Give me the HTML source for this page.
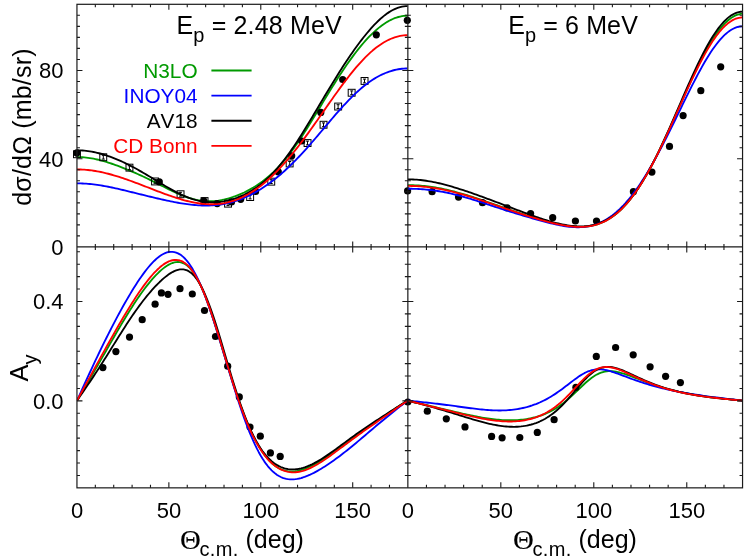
<!DOCTYPE html>
<html><head><meta charset="utf-8"><title>p-d scattering</title>
<style>html,body{margin:0;padding:0;background:#fff;}body{width:747px;height:558px;overflow:hidden;font-family:"Liberation Sans",sans-serif;}svg{display:block;will-change:transform;}</style></head>
<body>
<svg width="747" height="558" viewBox="0 0 747 558">
<rect width="747" height="558" fill="#fff"/>
<defs>
<clipPath id="cTL"><rect x="76.95" y="4.3" width="330.90000000000003" height="242.64999999999998"/></clipPath>
<clipPath id="cTR"><rect x="407.85" y="4.3" width="334.69999999999993" height="242.64999999999998"/></clipPath>
<clipPath id="cBL"><rect x="76.95" y="246.95" width="330.90000000000003" height="240.90000000000003"/></clipPath>
<clipPath id="cBR"><rect x="407.85" y="246.95" width="334.69999999999993" height="240.90000000000003"/></clipPath>
</defs>
<g clip-path="url(#cTL)" fill="none" stroke-width="1.85" stroke-linejoin="round">
<path stroke="#009a00" d="M77.00,157.05 L78.84,157.07 L80.67,157.13 L82.51,157.24 L84.34,157.38 L86.18,157.57 L88.02,157.80 L89.85,158.07 L91.69,158.37 L93.52,158.71 L95.36,159.08 L97.20,159.49 L99.03,159.93 L100.87,160.40 L102.71,160.90 L104.54,161.42 L106.38,161.97 L108.21,162.54 L110.05,163.14 L111.89,163.75 L113.72,164.38 L115.56,165.03 L117.39,165.70 L119.23,166.39 L121.07,167.09 L122.90,167.80 L124.74,168.53 L126.57,169.27 L128.41,170.03 L130.25,170.79 L132.08,171.57 L133.92,172.37 L135.76,173.18 L137.59,174.00 L139.43,174.83 L141.26,175.67 L143.10,176.53 L144.94,177.40 L146.77,178.28 L148.61,179.17 L150.44,180.07 L152.28,180.98 L154.12,181.90 L155.95,182.82 L157.79,183.75 L159.62,184.68 L161.46,185.61 L163.30,186.55 L165.13,187.47 L166.97,188.40 L168.81,189.31 L170.64,190.21 L172.48,191.10 L174.31,191.96 L176.15,192.81 L177.99,193.63 L179.82,194.43 L181.66,195.19 L183.49,195.92 L185.33,196.61 L187.17,197.26 L189.00,197.87 L190.84,198.44 L192.67,198.96 L194.51,199.42 L196.35,199.84 L198.18,200.21 L200.02,200.52 L201.85,200.77 L203.69,200.97 L205.53,201.12 L207.36,201.21 L209.20,201.24 L211.04,201.22 L212.87,201.14 L214.71,201.01 L216.54,200.82 L218.38,200.59 L220.22,200.30 L222.05,199.97 L223.89,199.58 L225.72,199.15 L227.56,198.68 L229.40,198.16 L231.23,197.59 L233.07,196.99 L234.90,196.34 L236.74,195.65 L238.58,194.92 L240.41,194.15 L242.25,193.34 L244.09,192.49 L245.92,191.59 L247.76,190.65 L249.59,189.67 L251.43,188.64 L253.27,187.57 L255.10,186.45 L256.94,185.27 L258.77,184.04 L260.61,182.76 L262.45,181.42 L264.28,180.02 L266.12,178.56 L267.95,177.04 L269.79,175.45 L271.63,173.79 L273.46,172.06 L275.30,170.27 L277.13,168.40 L278.97,166.46 L280.81,164.44 L282.64,162.35 L284.48,160.19 L286.32,157.96 L288.15,155.66 L289.99,153.28 L291.82,150.84 L293.66,148.33 L295.50,145.76 L297.33,143.12 L299.17,140.43 L301.00,137.69 L302.84,134.89 L304.68,132.05 L306.51,129.17 L308.35,126.25 L310.18,123.30 L312.02,120.32 L313.86,117.31 L315.69,114.29 L317.53,111.26 L319.37,108.22 L321.20,105.17 L323.04,102.13 L324.87,99.09 L326.71,96.06 L328.55,93.05 L330.38,90.06 L332.22,87.09 L334.05,84.14 L335.89,81.23 L337.73,78.35 L339.56,75.51 L341.40,72.71 L343.23,69.94 L345.07,67.23 L346.91,64.56 L348.74,61.94 L350.58,59.38 L352.42,56.86 L354.25,54.41 L356.09,52.01 L357.92,49.67 L359.76,47.39 L361.60,45.17 L363.43,43.02 L365.27,40.94 L367.10,38.93 L368.94,36.98 L370.78,35.11 L372.61,33.31 L374.45,31.59 L376.28,29.94 L378.12,28.38 L379.96,26.90 L381.79,25.50 L383.63,24.18 L385.46,22.96 L387.30,21.82 L389.14,20.78 L390.97,19.83 L392.81,18.98 L394.65,18.22 L396.48,17.56 L398.32,17.00 L400.15,16.54 L401.99,16.18 L403.83,15.92 L405.66,15.77 L407.50,15.71"/>
</g>
<g clip-path="url(#cTR)" fill="none" stroke-width="1.85" stroke-linejoin="round">
<path stroke="#009a00" d="M407.50,185.13 L409.36,185.14 L411.22,185.17 L413.08,185.22 L414.94,185.30 L416.81,185.40 L418.67,185.51 L420.53,185.65 L422.39,185.81 L424.25,185.99 L426.11,186.19 L427.97,186.42 L429.83,186.66 L431.69,186.92 L433.56,187.20 L435.42,187.51 L437.28,187.83 L439.14,188.17 L441.00,188.53 L442.86,188.90 L444.72,189.30 L446.58,189.71 L448.44,190.14 L450.31,190.59 L452.17,191.05 L454.03,191.52 L455.89,192.02 L457.75,192.52 L459.61,193.04 L461.47,193.57 L463.33,194.12 L465.19,194.67 L467.06,195.24 L468.92,195.82 L470.78,196.40 L472.64,197.00 L474.50,197.60 L476.36,198.22 L478.22,198.83 L480.08,199.46 L481.94,200.09 L483.81,200.72 L485.67,201.36 L487.53,202.00 L489.39,202.64 L491.25,203.29 L493.11,203.94 L494.97,204.59 L496.83,205.23 L498.69,205.88 L500.56,206.53 L502.42,207.18 L504.28,207.83 L506.14,208.47 L508.00,209.11 L509.86,209.75 L511.72,210.39 L513.58,211.02 L515.44,211.65 L517.30,212.28 L519.17,212.90 L521.03,213.52 L522.89,214.13 L524.75,214.74 L526.61,215.34 L528.47,215.94 L530.33,216.53 L532.19,217.11 L534.05,217.69 L535.92,218.26 L537.78,218.82 L539.64,219.37 L541.50,219.91 L543.36,220.45 L545.22,220.97 L547.08,221.48 L548.94,221.97 L550.80,222.45 L552.67,222.92 L554.53,223.37 L556.39,223.80 L558.25,224.21 L560.11,224.60 L561.97,224.96 L563.83,225.30 L565.69,225.62 L567.55,225.90 L569.42,226.15 L571.28,226.37 L573.14,226.55 L575.00,226.69 L576.86,226.79 L578.72,226.84 L580.58,226.85 L582.44,226.80 L584.30,226.71 L586.17,226.55 L588.03,226.34 L589.89,226.06 L591.75,225.72 L593.61,225.31 L595.47,224.83 L597.33,224.28 L599.19,223.64 L601.05,222.93 L602.92,222.13 L604.78,221.25 L606.64,220.27 L608.50,219.21 L610.36,218.05 L612.22,216.79 L614.08,215.43 L615.94,213.98 L617.80,212.42 L619.67,210.76 L621.53,208.99 L623.39,207.11 L625.25,205.13 L627.11,203.04 L628.97,200.84 L630.83,198.53 L632.69,196.11 L634.55,193.58 L636.42,190.95 L638.28,188.21 L640.14,185.36 L642.00,182.41 L643.86,179.36 L645.72,176.21 L647.58,172.96 L649.44,169.62 L651.30,166.19 L653.17,162.67 L655.03,159.07 L656.89,155.38 L658.75,151.63 L660.61,147.80 L662.47,143.91 L664.33,139.97 L666.19,135.96 L668.05,131.91 L669.92,127.82 L671.78,123.70 L673.64,119.55 L675.50,115.37 L677.36,111.18 L679.22,106.99 L681.08,102.80 L682.94,98.61 L684.80,94.44 L686.66,90.30 L688.53,86.18 L690.39,82.11 L692.25,78.08 L694.11,74.11 L695.97,70.20 L697.83,66.37 L699.69,62.61 L701.55,58.94 L703.41,55.37 L705.28,51.89 L707.14,48.53 L709.00,45.29 L710.86,42.17 L712.72,39.18 L714.58,36.33 L716.44,33.62 L718.30,31.07 L720.16,28.67 L722.03,26.43 L723.89,24.36 L725.75,22.46 L727.61,20.73 L729.47,19.19 L731.33,17.83 L733.19,16.66 L735.05,15.68 L736.91,14.89 L738.78,14.30 L740.64,13.90 L742.50,13.70"/>
</g>
<g clip-path="url(#cBL)" fill="none" stroke-width="1.85" stroke-linejoin="round">
<path stroke="#009a00" d="M77.00,400.60 L78.84,397.50 L80.67,394.41 L82.51,391.31 L84.34,388.20 L86.18,385.09 L88.02,381.96 L89.85,378.83 L91.69,375.69 L93.52,372.54 L95.36,369.38 L97.20,366.21 L99.03,363.03 L100.87,359.84 L102.71,356.65 L104.54,353.45 L106.38,350.24 L108.21,347.04 L110.05,343.83 L111.89,340.64 L113.72,337.45 L115.56,334.27 L117.39,331.11 L119.23,327.97 L121.07,324.86 L122.90,321.77 L124.74,318.72 L126.57,315.70 L128.41,312.72 L130.25,309.78 L132.08,306.90 L133.92,304.06 L135.76,301.28 L137.59,298.55 L139.43,295.89 L141.26,293.29 L143.10,290.75 L144.94,288.29 L146.77,285.90 L148.61,283.58 L150.44,281.35 L152.28,279.19 L154.12,277.13 L155.95,275.16 L157.79,273.30 L159.62,271.54 L161.46,269.89 L163.30,268.37 L165.13,266.98 L166.97,265.73 L168.81,264.65 L170.64,263.73 L172.48,262.99 L174.31,262.45 L176.15,262.13 L177.99,262.04 L179.82,262.19 L181.66,262.61 L183.49,263.30 L185.33,264.29 L187.17,265.59 L189.00,267.21 L190.84,269.17 L192.67,271.46 L194.51,274.10 L196.35,277.09 L198.18,280.42 L200.02,284.09 L201.85,288.08 L203.69,292.40 L205.53,297.00 L207.36,301.89 L209.20,307.03 L211.04,312.39 L212.87,317.95 L214.71,323.68 L216.54,329.54 L218.38,335.50 L220.22,341.53 L222.05,347.61 L223.89,353.70 L225.72,359.77 L227.56,365.80 L229.40,371.76 L231.23,377.63 L233.07,383.40 L234.90,389.04 L236.74,394.54 L238.58,399.88 L240.41,405.06 L242.25,410.07 L244.09,414.89 L245.92,419.52 L247.76,423.95 L249.59,428.19 L251.43,432.22 L253.27,436.04 L255.10,439.66 L256.94,443.07 L258.77,446.27 L260.61,449.26 L262.45,452.05 L264.28,454.62 L266.12,457.00 L267.95,459.17 L269.79,461.15 L271.63,462.94 L273.46,464.53 L275.30,465.94 L277.13,467.18 L278.97,468.24 L280.81,469.13 L282.64,469.87 L284.48,470.45 L286.32,470.89 L288.15,471.18 L289.99,471.35 L291.82,471.39 L293.66,471.32 L295.50,471.13 L297.33,470.84 L299.17,470.46 L301.00,469.99 L302.84,469.43 L304.68,468.79 L306.51,468.09 L308.35,467.31 L310.18,466.48 L312.02,465.59 L313.86,464.65 L315.69,463.66 L317.53,462.63 L319.37,461.56 L321.20,460.46 L323.04,459.32 L324.87,458.15 L326.71,456.96 L328.55,455.74 L330.38,454.50 L332.22,453.24 L334.05,451.97 L335.89,450.68 L337.73,449.37 L339.56,448.06 L341.40,446.73 L343.23,445.40 L345.07,444.06 L346.91,442.72 L348.74,441.38 L350.58,440.03 L352.42,438.68 L354.25,437.33 L356.09,435.98 L357.92,434.63 L359.76,433.29 L361.60,431.95 L363.43,430.62 L365.27,429.29 L367.10,427.97 L368.94,426.65 L370.78,425.34 L372.61,424.04 L374.45,422.75 L376.28,421.46 L378.12,420.18 L379.96,418.91 L381.79,417.65 L383.63,416.39 L385.46,415.15 L387.30,413.90 L389.14,412.67 L390.97,411.44 L392.81,410.22 L394.65,409.01 L396.48,407.80 L398.32,406.59 L400.15,405.39 L401.99,404.19 L403.83,402.99 L405.66,401.80 L407.50,400.60"/>
</g>
<g clip-path="url(#cBR)" fill="none" stroke-width="1.85" stroke-linejoin="round">
<path stroke="#009a00" d="M407.50,400.60 L409.36,401.04 L411.22,401.47 L413.08,401.91 L414.94,402.35 L416.81,402.79 L418.67,403.22 L420.53,403.66 L422.39,404.10 L424.25,404.54 L426.11,404.98 L427.97,405.43 L429.83,405.87 L431.69,406.31 L433.56,406.76 L435.42,407.20 L437.28,407.65 L439.14,408.09 L441.00,408.54 L442.86,408.98 L444.72,409.43 L446.58,409.87 L448.44,410.31 L450.31,410.76 L452.17,411.20 L454.03,411.64 L455.89,412.07 L457.75,412.50 L459.61,412.93 L461.47,413.36 L463.33,413.78 L465.19,414.19 L467.06,414.60 L468.92,415.00 L470.78,415.40 L472.64,415.78 L474.50,416.16 L476.36,416.53 L478.22,416.88 L480.08,417.22 L481.94,417.55 L483.81,417.87 L485.67,418.17 L487.53,418.46 L489.39,418.73 L491.25,418.98 L493.11,419.21 L494.97,419.42 L496.83,419.61 L498.69,419.78 L500.56,419.93 L502.42,420.05 L504.28,420.15 L506.14,420.23 L508.00,420.27 L509.86,420.29 L511.72,420.28 L513.58,420.24 L515.44,420.17 L517.30,420.07 L519.17,419.93 L521.03,419.76 L522.89,419.56 L524.75,419.32 L526.61,419.04 L528.47,418.72 L530.33,418.36 L532.19,417.96 L534.05,417.52 L535.92,417.02 L537.78,416.49 L539.64,415.90 L541.50,415.26 L543.36,414.56 L545.22,413.81 L547.08,413.00 L548.94,412.12 L550.80,411.19 L552.67,410.19 L554.53,409.11 L556.39,407.97 L558.25,406.76 L560.11,405.48 L561.97,404.12 L563.83,402.69 L565.69,401.19 L567.55,399.63 L569.42,398.01 L571.28,396.33 L573.14,394.61 L575.00,392.85 L576.86,391.06 L578.72,389.27 L580.58,387.48 L582.44,385.71 L584.30,383.97 L586.17,382.29 L588.03,380.69 L589.89,379.17 L591.75,377.76 L593.61,376.47 L595.47,375.31 L597.33,374.29 L599.19,373.41 L601.05,372.68 L602.92,372.09 L604.78,371.66 L606.64,371.36 L608.50,371.20 L610.36,371.16 L612.22,371.24 L614.08,371.43 L615.94,371.71 L617.80,372.08 L619.67,372.52 L621.53,373.02 L623.39,373.57 L625.25,374.17 L627.11,374.81 L628.97,375.47 L630.83,376.16 L632.69,376.86 L634.55,377.58 L636.42,378.29 L638.28,379.01 L640.14,379.73 L642.00,380.44 L643.86,381.15 L645.72,381.84 L647.58,382.52 L649.44,383.20 L651.30,383.85 L653.17,384.50 L655.03,385.12 L656.89,385.74 L658.75,386.33 L660.61,386.91 L662.47,387.47 L664.33,388.02 L666.19,388.55 L668.05,389.07 L669.92,389.56 L671.78,390.05 L673.64,390.51 L675.50,390.97 L677.36,391.40 L679.22,391.83 L681.08,392.24 L682.94,392.63 L684.80,393.01 L686.66,393.38 L688.53,393.74 L690.39,394.09 L692.25,394.42 L694.11,394.74 L695.97,395.05 L697.83,395.36 L699.69,395.65 L701.55,395.93 L703.41,396.20 L705.28,396.47 L707.14,396.73 L709.00,396.97 L710.86,397.22 L712.72,397.45 L714.58,397.68 L716.44,397.90 L718.30,398.12 L720.16,398.33 L722.03,398.53 L723.89,398.74 L725.75,398.93 L727.61,399.13 L729.47,399.32 L731.33,399.51 L733.19,399.69 L735.05,399.88 L736.91,400.06 L738.78,400.24 L740.64,400.42 L742.50,400.60"/>
</g>
<g fill="none" stroke="#000" stroke-width="1.0">
<rect x="73.5" y="150.8" width="6.9" height="6.9"/>
<path d="M76.9,152.3V156.1M75.4,152.3H78.4M75.4,156.1H78.4"/>
<rect x="99.8" y="153.8" width="6.9" height="6.9"/>
<path d="M103.3,155.3V159.1M101.8,155.3H104.8M101.8,159.1H104.8"/>
<rect x="126.0" y="164.2" width="6.9" height="6.9"/>
<path d="M129.4,165.8V169.6M127.9,165.8H130.9M127.9,169.6H130.9"/>
<rect x="151.6" y="178.0" width="6.9" height="6.9"/>
<path d="M155.0,179.5V183.3M153.5,179.5H156.5M153.5,183.3H156.5"/>
<rect x="177.1" y="190.8" width="6.9" height="6.9"/>
<path d="M180.5,192.3V196.1M179.0,192.3H182.0M179.0,196.1H182.0"/>
<rect x="201.1" y="197.6" width="6.9" height="6.9"/>
<path d="M204.5,199.1V202.9M203.0,199.1H206.0M203.0,202.9H206.0"/>
<rect x="224.6" y="200.2" width="6.9" height="6.9"/>
<path d="M228.0,201.8V205.6M226.5,201.8H229.5M226.5,205.6H229.5"/>
<rect x="246.7" y="193.6" width="6.9" height="6.9"/>
<path d="M250.1,195.1V198.9M248.6,195.1H251.6M248.6,198.9H251.6"/>
<rect x="267.8" y="178.2" width="6.9" height="6.9"/>
<path d="M271.2,179.7V183.5M269.7,179.7H272.7M269.7,183.5H272.7"/>
<rect x="286.2" y="160.0" width="6.9" height="6.9"/>
<path d="M289.7,161.5V165.3M288.2,161.5H291.2M288.2,165.3H291.2"/>
<rect x="304.1" y="139.6" width="6.9" height="6.9"/>
<path d="M307.5,141.1V144.9M306.0,141.1H309.0M306.0,144.9H309.0"/>
<rect x="320.1" y="121.3" width="6.9" height="6.9"/>
<path d="M323.5,122.9V126.7M322.0,122.9H325.0M322.0,126.7H325.0"/>
<rect x="334.7" y="103.1" width="6.9" height="6.9"/>
<path d="M338.1,104.7V108.5M336.6,104.7H339.6M336.6,108.5H339.6"/>
<rect x="348.2" y="89.3" width="6.9" height="6.9"/>
<path d="M351.7,90.9V94.7M350.2,90.9H353.2M350.2,94.7H353.2"/>
<rect x="361.1" y="77.5" width="6.9" height="6.9"/>
<path d="M364.5,79.1V82.9M363.0,79.1H366.0M363.0,82.9H366.0"/>
</g>
<g fill="#000">
<circle cx="76.9" cy="152.9" r="3.6"/>
<circle cx="159.3" cy="181.9" r="3.6"/>
<circle cx="203.8" cy="200.9" r="3.6"/>
<circle cx="217.2" cy="203.6" r="3.6"/>
<circle cx="231.5" cy="201.9" r="3.6"/>
<circle cx="240.7" cy="199.3" r="3.6"/>
<circle cx="255.6" cy="191.4" r="3.6"/>
<circle cx="278.3" cy="171.9" r="3.6"/>
<circle cx="291.7" cy="155.8" r="3.6"/>
<circle cx="301.7" cy="141.0" r="3.6"/>
<circle cx="320.8" cy="112.4" r="3.6"/>
<circle cx="342.7" cy="79.5" r="3.6"/>
<circle cx="376.3" cy="34.8" r="3.6"/>
<circle cx="407.3" cy="20.3" r="3.6"/>
<circle cx="407.6" cy="190.9" r="3.6"/>
<circle cx="432.1" cy="191.7" r="3.6"/>
<circle cx="458.5" cy="197.1" r="3.6"/>
<circle cx="482.5" cy="202.7" r="3.6"/>
<circle cx="507.0" cy="207.8" r="3.6"/>
<circle cx="530.6" cy="213.6" r="3.6"/>
<circle cx="552.7" cy="217.7" r="3.6"/>
<circle cx="575.4" cy="221.0" r="3.6"/>
<circle cx="596.5" cy="221.0" r="3.6"/>
<circle cx="633.4" cy="191.7" r="3.6"/>
<circle cx="651.9" cy="172.1" r="3.6"/>
<circle cx="669.5" cy="146.4" r="3.6"/>
<circle cx="683.1" cy="115.6" r="3.6"/>
<circle cx="700.8" cy="90.7" r="3.6"/>
<circle cx="720.7" cy="66.8" r="3.6"/>
<circle cx="102.9" cy="367.6" r="3.6"/>
<circle cx="115.9" cy="351.6" r="3.6"/>
<circle cx="129.5" cy="337.1" r="3.6"/>
<circle cx="142.2" cy="319.7" r="3.6"/>
<circle cx="155.1" cy="304.2" r="3.6"/>
<circle cx="161.4" cy="292.9" r="3.6"/>
<circle cx="168.0" cy="294.3" r="3.6"/>
<circle cx="180.0" cy="288.7" r="3.6"/>
<circle cx="192.3" cy="294.0" r="3.6"/>
<circle cx="204.5" cy="310.5" r="3.6"/>
<circle cx="215.5" cy="336.5" r="3.6"/>
<circle cx="227.7" cy="366.2" r="3.6"/>
<circle cx="239.3" cy="396.9" r="3.6"/>
<circle cx="250.0" cy="427.0" r="3.6"/>
<circle cx="260.3" cy="436.2" r="3.6"/>
<circle cx="270.4" cy="452.9" r="3.6"/>
<circle cx="280.2" cy="456.4" r="3.6"/>
<circle cx="407.8" cy="402.0" r="3.6"/>
<circle cx="427.3" cy="411.2" r="3.6"/>
<circle cx="446.3" cy="418.8" r="3.6"/>
<circle cx="465.0" cy="426.9" r="3.6"/>
<circle cx="491.6" cy="436.4" r="3.6"/>
<circle cx="502.1" cy="437.8" r="3.6"/>
<circle cx="519.8" cy="437.5" r="3.6"/>
<circle cx="537.3" cy="432.4" r="3.6"/>
<circle cx="554.1" cy="419.7" r="3.6"/>
<circle cx="575.9" cy="387.3" r="3.6"/>
<circle cx="596.3" cy="356.4" r="3.6"/>
<circle cx="615.6" cy="347.5" r="3.6"/>
<circle cx="633.2" cy="354.8" r="3.6"/>
<circle cx="650.1" cy="366.8" r="3.6"/>
<circle cx="665.6" cy="376.3" r="3.6"/>
<circle cx="680.4" cy="382.6" r="3.6"/>
</g>
<g clip-path="url(#cTL)" fill="none" stroke-width="1.85" stroke-linejoin="round">
<path stroke="#0000ff" d="M77.00,183.35 L78.84,183.37 L80.67,183.41 L82.51,183.47 L84.34,183.56 L86.18,183.67 L88.02,183.81 L89.85,183.98 L91.69,184.16 L93.52,184.37 L95.36,184.60 L97.20,184.85 L99.03,185.13 L100.87,185.42 L102.71,185.73 L104.54,186.05 L106.38,186.39 L108.21,186.75 L110.05,187.12 L111.89,187.50 L113.72,187.89 L115.56,188.30 L117.39,188.71 L119.23,189.13 L121.07,189.56 L122.90,190.00 L124.74,190.44 L126.57,190.88 L128.41,191.33 L130.25,191.78 L132.08,192.24 L133.92,192.69 L135.76,193.15 L137.59,193.60 L139.43,194.06 L141.26,194.51 L143.10,194.97 L144.94,195.42 L146.77,195.87 L148.61,196.32 L150.44,196.76 L152.28,197.21 L154.12,197.64 L155.95,198.08 L157.79,198.50 L159.62,198.93 L161.46,199.35 L163.30,199.76 L165.13,200.16 L166.97,200.56 L168.81,200.95 L170.64,201.33 L172.48,201.70 L174.31,202.06 L176.15,202.40 L177.99,202.74 L179.82,203.06 L181.66,203.37 L183.49,203.67 L185.33,203.94 L187.17,204.20 L189.00,204.44 L190.84,204.66 L192.67,204.86 L194.51,205.04 L196.35,205.19 L198.18,205.32 L200.02,205.42 L201.85,205.50 L203.69,205.55 L205.53,205.57 L207.36,205.55 L209.20,205.51 L211.04,205.44 L212.87,205.33 L214.71,205.18 L216.54,205.01 L218.38,204.79 L220.22,204.54 L222.05,204.26 L223.89,203.93 L225.72,203.57 L227.56,203.17 L229.40,202.73 L231.23,202.26 L233.07,201.74 L234.90,201.18 L236.74,200.59 L238.58,199.95 L240.41,199.27 L242.25,198.56 L244.09,197.80 L245.92,197.00 L247.76,196.16 L249.59,195.29 L251.43,194.37 L253.27,193.41 L255.10,192.41 L256.94,191.37 L258.77,190.29 L260.61,189.17 L262.45,188.01 L264.28,186.81 L266.12,185.57 L267.95,184.29 L269.79,182.97 L271.63,181.61 L273.46,180.21 L275.30,178.77 L277.13,177.29 L278.97,175.76 L280.81,174.20 L282.64,172.60 L284.48,170.96 L286.32,169.28 L288.15,167.57 L289.99,165.81 L291.82,164.02 L293.66,162.20 L295.50,160.34 L297.33,158.44 L299.17,156.51 L301.00,154.56 L302.84,152.57 L304.68,150.55 L306.51,148.51 L308.35,146.44 L310.18,144.35 L312.02,142.25 L313.86,140.12 L315.69,137.98 L317.53,135.82 L319.37,133.66 L321.20,131.49 L323.04,129.31 L324.87,127.14 L326.71,124.96 L328.55,122.79 L330.38,120.63 L332.22,118.48 L334.05,116.34 L335.89,114.22 L337.73,112.13 L339.56,110.05 L341.40,108.01 L343.23,105.99 L345.07,104.01 L346.91,102.06 L348.74,100.15 L350.58,98.28 L352.42,96.45 L354.25,94.67 L356.09,92.94 L357.92,91.26 L359.76,89.63 L361.60,88.06 L363.43,86.54 L365.27,85.08 L367.10,83.67 L368.94,82.33 L370.78,81.04 L372.61,79.82 L374.45,78.65 L376.28,77.55 L378.12,76.51 L379.96,75.54 L381.79,74.63 L383.63,73.78 L385.46,72.99 L387.30,72.27 L389.14,71.61 L390.97,71.02 L392.81,70.49 L394.65,70.02 L396.48,69.61 L398.32,69.27 L400.15,68.99 L401.99,68.77 L403.83,68.61 L405.66,68.52 L407.50,68.49"/>
<path stroke="#000000" d="M77.00,150.36 L78.84,150.38 L80.67,150.44 L82.51,150.54 L84.34,150.69 L86.18,150.87 L88.02,151.10 L89.85,151.36 L91.69,151.67 L93.52,152.01 L95.36,152.39 L97.20,152.80 L99.03,153.25 L100.87,153.74 L102.71,154.26 L104.54,154.82 L106.38,155.40 L108.21,156.02 L110.05,156.67 L111.89,157.35 L113.72,158.06 L115.56,158.79 L117.39,159.56 L119.23,160.35 L121.07,161.16 L122.90,162.00 L124.74,162.87 L126.57,163.76 L128.41,164.67 L130.25,165.60 L132.08,166.56 L133.92,167.53 L135.76,168.53 L137.59,169.54 L139.43,170.57 L141.26,171.62 L143.10,172.68 L144.94,173.75 L146.77,174.84 L148.61,175.94 L150.44,177.04 L152.28,178.15 L154.12,179.27 L155.95,180.39 L157.79,181.51 L159.62,182.62 L161.46,183.73 L163.30,184.83 L165.13,185.92 L166.97,187.00 L168.81,188.06 L170.64,189.11 L172.48,190.13 L174.31,191.12 L176.15,192.09 L177.99,193.02 L179.82,193.92 L181.66,194.79 L183.49,195.62 L185.33,196.40 L187.17,197.15 L189.00,197.85 L190.84,198.50 L192.67,199.10 L194.51,199.65 L196.35,200.15 L198.18,200.60 L200.02,201.00 L201.85,201.34 L203.69,201.63 L205.53,201.87 L207.36,202.05 L209.20,202.18 L211.04,202.25 L212.87,202.27 L214.71,202.24 L216.54,202.15 L218.38,202.01 L220.22,201.82 L222.05,201.59 L223.89,201.30 L225.72,200.96 L227.56,200.56 L229.40,200.13 L231.23,199.64 L233.07,199.10 L234.90,198.51 L236.74,197.87 L238.58,197.18 L240.41,196.43 L242.25,195.64 L244.09,194.79 L245.92,193.88 L247.76,192.92 L249.59,191.90 L251.43,190.81 L253.27,189.67 L255.10,188.47 L256.94,187.19 L258.77,185.86 L260.61,184.45 L262.45,182.97 L264.28,181.43 L266.12,179.80 L267.95,178.11 L269.79,176.34 L271.63,174.50 L273.46,172.58 L275.30,170.58 L277.13,168.51 L278.97,166.37 L280.81,164.15 L282.64,161.85 L284.48,159.49 L286.32,157.06 L288.15,154.55 L289.99,151.99 L291.82,149.36 L293.66,146.68 L295.50,143.94 L297.33,141.14 L299.17,138.30 L301.00,135.42 L302.84,132.49 L304.68,129.53 L306.51,126.54 L308.35,123.52 L310.18,120.48 L312.02,117.42 L313.86,114.35 L315.69,111.26 L317.53,108.17 L319.37,105.08 L321.20,101.99 L323.04,98.90 L324.87,95.82 L326.71,92.76 L328.55,89.71 L330.38,86.67 L332.22,83.66 L334.05,80.66 L335.89,77.70 L337.73,74.76 L339.56,71.85 L341.40,68.97 L343.23,66.12 L345.07,63.31 L346.91,60.53 L348.74,57.79 L350.58,55.09 L352.42,52.44 L354.25,49.83 L356.09,47.26 L357.92,44.75 L359.76,42.28 L361.60,39.87 L363.43,37.51 L365.27,35.21 L367.10,32.97 L368.94,30.80 L370.78,28.70 L372.61,26.66 L374.45,24.70 L376.28,22.82 L378.12,21.02 L379.96,19.30 L381.79,17.68 L383.63,16.14 L385.46,14.71 L387.30,13.37 L389.14,12.13 L390.97,11.01 L392.81,9.99 L394.65,9.08 L396.48,8.29 L398.32,7.62 L400.15,7.07 L401.99,6.63 L403.83,6.32 L405.66,6.14 L407.50,6.07"/>
<path stroke="#ff0000" d="M77.00,169.45 L78.84,169.46 L80.67,169.51 L82.51,169.59 L84.34,169.70 L86.18,169.84 L88.02,170.01 L89.85,170.21 L91.69,170.44 L93.52,170.71 L95.36,170.99 L97.20,171.31 L99.03,171.65 L100.87,172.02 L102.71,172.42 L104.54,172.84 L106.38,173.28 L108.21,173.75 L110.05,174.24 L111.89,174.74 L113.72,175.27 L115.56,175.82 L117.39,176.39 L119.23,176.97 L121.07,177.56 L122.90,178.18 L124.74,178.80 L126.57,179.44 L128.41,180.09 L130.25,180.75 L132.08,181.42 L133.92,182.10 L135.76,182.79 L137.59,183.48 L139.43,184.18 L141.26,184.88 L143.10,185.59 L144.94,186.30 L146.77,187.01 L148.61,187.72 L150.44,188.44 L152.28,189.15 L154.12,189.86 L155.95,190.56 L157.79,191.27 L159.62,191.96 L161.46,192.66 L163.30,193.34 L165.13,194.01 L166.97,194.68 L168.81,195.33 L170.64,195.98 L172.48,196.61 L174.31,197.22 L176.15,197.82 L177.99,198.40 L179.82,198.96 L181.66,199.50 L183.49,200.03 L185.33,200.52 L187.17,201.00 L189.00,201.44 L190.84,201.86 L192.67,202.26 L194.51,202.62 L196.35,202.95 L198.18,203.24 L200.02,203.50 L201.85,203.73 L203.69,203.92 L205.53,204.07 L207.36,204.18 L209.20,204.25 L211.04,204.27 L212.87,204.25 L214.71,204.19 L216.54,204.08 L218.38,203.93 L220.22,203.72 L222.05,203.47 L223.89,203.17 L225.72,202.82 L227.56,202.41 L229.40,201.95 L231.23,201.45 L233.07,200.88 L234.90,200.27 L236.74,199.60 L238.58,198.88 L240.41,198.10 L242.25,197.27 L244.09,196.38 L245.92,195.43 L247.76,194.44 L249.59,193.38 L251.43,192.27 L253.27,191.11 L255.10,189.89 L256.94,188.61 L258.77,187.28 L260.61,185.90 L262.45,184.46 L264.28,182.97 L266.12,181.42 L267.95,179.82 L269.79,178.17 L271.63,176.47 L273.46,174.71 L275.30,172.90 L277.13,171.05 L278.97,169.14 L280.81,167.19 L282.64,165.18 L284.48,163.13 L286.32,161.04 L288.15,158.90 L289.99,156.72 L291.82,154.49 L293.66,152.23 L295.50,149.92 L297.33,147.58 L299.17,145.20 L301.00,142.79 L302.84,140.35 L304.68,137.88 L306.51,135.38 L308.35,132.85 L310.18,130.31 L312.02,127.74 L313.86,125.15 L315.69,122.55 L317.53,119.93 L319.37,117.31 L321.20,114.68 L323.04,112.04 L324.87,109.40 L326.71,106.77 L328.55,104.14 L330.38,101.52 L332.22,98.91 L334.05,96.31 L335.89,93.73 L337.73,91.18 L339.56,88.64 L341.40,86.14 L343.23,83.66 L345.07,81.22 L346.91,78.82 L348.74,76.46 L350.58,74.13 L352.42,71.86 L354.25,69.63 L356.09,67.46 L357.92,65.33 L359.76,63.27 L361.60,61.26 L363.43,59.32 L365.27,57.44 L367.10,55.62 L368.94,53.87 L370.78,52.19 L372.61,50.58 L374.45,49.05 L376.28,47.59 L378.12,46.21 L379.96,44.90 L381.79,43.67 L383.63,42.53 L385.46,41.46 L387.30,40.47 L389.14,39.57 L390.97,38.75 L392.81,38.02 L394.65,37.37 L396.48,36.81 L398.32,36.33 L400.15,35.94 L401.99,35.64 L403.83,35.42 L405.66,35.29 L407.50,35.24"/>
</g>
<g clip-path="url(#cTR)" fill="none" stroke-width="1.85" stroke-linejoin="round">
<path stroke="#0000ff" d="M407.50,188.73 L409.36,188.74 L411.22,188.77 L413.08,188.81 L414.94,188.87 L416.81,188.95 L418.67,189.04 L420.53,189.15 L422.39,189.28 L424.25,189.43 L426.11,189.59 L427.97,189.78 L429.83,189.98 L431.69,190.20 L433.56,190.44 L435.42,190.69 L437.28,190.97 L439.14,191.27 L441.00,191.58 L442.86,191.91 L444.72,192.27 L446.58,192.64 L448.44,193.03 L450.31,193.43 L452.17,193.86 L454.03,194.30 L455.89,194.76 L457.75,195.23 L459.61,195.72 L461.47,196.23 L463.33,196.75 L465.19,197.28 L467.06,197.82 L468.92,198.38 L470.78,198.94 L472.64,199.52 L474.50,200.10 L476.36,200.69 L478.22,201.29 L480.08,201.89 L481.94,202.49 L483.81,203.10 L485.67,203.71 L487.53,204.33 L489.39,204.94 L491.25,205.55 L493.11,206.16 L494.97,206.78 L496.83,207.38 L498.69,207.99 L500.56,208.59 L502.42,209.19 L504.28,209.79 L506.14,210.38 L508.00,210.97 L509.86,211.55 L511.72,212.13 L513.58,212.71 L515.44,213.28 L517.30,213.85 L519.17,214.41 L521.03,214.97 L522.89,215.53 L524.75,216.08 L526.61,216.63 L528.47,217.17 L530.33,217.72 L532.19,218.25 L534.05,218.78 L535.92,219.31 L537.78,219.83 L539.64,220.35 L541.50,220.86 L543.36,221.36 L545.22,221.85 L547.08,222.34 L548.94,222.81 L550.80,223.27 L552.67,223.72 L554.53,224.15 L556.39,224.56 L558.25,224.95 L560.11,225.32 L561.97,225.66 L563.83,225.98 L565.69,226.27 L567.55,226.52 L569.42,226.74 L571.28,226.93 L573.14,227.07 L575.00,227.16 L576.86,227.21 L578.72,227.21 L580.58,227.16 L582.44,227.05 L584.30,226.88 L586.17,226.64 L588.03,226.35 L589.89,225.98 L591.75,225.54 L593.61,225.03 L595.47,224.45 L597.33,223.79 L599.19,223.04 L601.05,222.21 L602.92,221.30 L604.78,220.31 L606.64,219.22 L608.50,218.04 L610.36,216.78 L612.22,215.42 L614.08,213.97 L615.94,212.43 L617.80,210.79 L619.67,209.06 L621.53,207.24 L623.39,205.32 L625.25,203.31 L627.11,201.20 L628.97,199.01 L630.83,196.72 L632.69,194.33 L634.55,191.86 L636.42,189.30 L638.28,186.66 L640.14,183.92 L642.00,181.11 L643.86,178.21 L645.72,175.23 L647.58,172.18 L649.44,169.05 L651.30,165.85 L653.17,162.57 L655.03,159.24 L656.89,155.84 L658.75,152.38 L660.61,148.86 L662.47,145.30 L664.33,141.68 L666.19,138.03 L668.05,134.33 L669.92,130.60 L671.78,126.84 L673.64,123.05 L675.50,119.25 L677.36,115.44 L679.22,111.61 L681.08,107.79 L682.94,103.97 L684.80,100.17 L686.66,96.38 L688.53,92.62 L690.39,88.89 L692.25,85.19 L694.11,81.55 L695.97,77.96 L697.83,74.43 L699.69,70.98 L701.55,67.59 L703.41,64.30 L705.28,61.09 L707.14,57.98 L709.00,54.98 L710.86,52.10 L712.72,49.34 L714.58,46.70 L716.44,44.20 L718.30,41.84 L720.16,39.63 L722.03,37.57 L723.89,35.67 L725.75,33.94 L727.61,32.37 L729.47,30.98 L731.33,29.77 L733.19,28.73 L735.05,27.88 L736.91,27.22 L738.78,26.75 L740.64,26.46 L742.50,26.37"/>
<path stroke="#000000" d="M407.50,179.35 L409.36,179.36 L411.22,179.40 L413.08,179.47 L414.94,179.58 L416.81,179.70 L418.67,179.86 L420.53,180.04 L422.39,180.25 L424.25,180.49 L426.11,180.76 L427.97,181.04 L429.83,181.36 L431.69,181.69 L433.56,182.05 L435.42,182.43 L437.28,182.84 L439.14,183.26 L441.00,183.70 L442.86,184.16 L444.72,184.64 L446.58,185.14 L448.44,185.65 L450.31,186.18 L452.17,186.72 L454.03,187.28 L455.89,187.84 L457.75,188.42 L459.61,189.01 L461.47,189.61 L463.33,190.22 L465.19,190.84 L467.06,191.47 L468.92,192.10 L470.78,192.74 L472.64,193.39 L474.50,194.05 L476.36,194.71 L478.22,195.37 L480.08,196.05 L481.94,196.72 L483.81,197.40 L485.67,198.08 L487.53,198.77 L489.39,199.46 L491.25,200.16 L493.11,200.85 L494.97,201.55 L496.83,202.25 L498.69,202.95 L500.56,203.66 L502.42,204.36 L504.28,205.07 L506.14,205.78 L508.00,206.49 L509.86,207.19 L511.72,207.90 L513.58,208.61 L515.44,209.31 L517.30,210.02 L519.17,210.72 L521.03,211.42 L522.89,212.11 L524.75,212.80 L526.61,213.49 L528.47,214.17 L530.33,214.84 L532.19,215.51 L534.05,216.17 L535.92,216.82 L537.78,217.46 L539.64,218.08 L541.50,218.70 L543.36,219.30 L545.22,219.89 L547.08,220.47 L548.94,221.02 L550.80,221.56 L552.67,222.08 L554.53,222.58 L556.39,223.05 L558.25,223.50 L560.11,223.93 L561.97,224.33 L563.83,224.69 L565.69,225.03 L567.55,225.33 L569.42,225.60 L571.28,225.83 L573.14,226.02 L575.00,226.17 L576.86,226.28 L578.72,226.34 L580.58,226.35 L582.44,226.30 L584.30,226.21 L586.17,226.06 L588.03,225.84 L589.89,225.57 L591.75,225.23 L593.61,224.82 L595.47,224.35 L597.33,223.80 L599.19,223.17 L601.05,222.47 L602.92,221.68 L604.78,220.81 L606.64,219.85 L608.50,218.80 L610.36,217.66 L612.22,216.42 L614.08,215.09 L615.94,213.65 L617.80,212.12 L619.67,210.48 L621.53,208.74 L623.39,206.88 L625.25,204.93 L627.11,202.86 L628.97,200.68 L630.83,198.39 L632.69,195.99 L634.55,193.48 L636.42,190.86 L638.28,188.12 L640.14,185.28 L642.00,182.33 L643.86,179.28 L645.72,176.11 L647.58,172.85 L649.44,169.49 L651.30,166.03 L653.17,162.48 L655.03,158.84 L656.89,155.12 L658.75,151.31 L660.61,147.43 L662.47,143.48 L664.33,139.47 L666.19,135.39 L668.05,131.27 L669.92,127.10 L671.78,122.89 L673.64,118.65 L675.50,114.38 L677.36,110.10 L679.22,105.81 L681.08,101.51 L682.94,97.23 L684.80,92.96 L686.66,88.71 L688.53,84.50 L690.39,80.33 L692.25,76.21 L694.11,72.14 L695.97,68.14 L697.83,64.22 L699.69,60.39 L701.55,56.64 L703.41,53.00 L705.28,49.46 L707.14,46.04 L709.00,42.75 L710.86,39.58 L712.72,36.56 L714.58,33.68 L716.44,30.96 L718.30,28.39 L720.16,25.99 L722.03,23.76 L723.89,21.71 L725.75,19.83 L727.61,18.14 L729.47,16.64 L731.33,15.34 L733.19,14.22 L735.05,13.31 L736.91,12.60 L738.78,12.09 L740.64,11.78 L742.50,11.68"/>
<path stroke="#ff0000" d="M407.50,185.92 L409.36,185.93 L411.22,185.96 L413.08,186.01 L414.94,186.08 L416.81,186.17 L418.67,186.28 L420.53,186.42 L422.39,186.57 L424.25,186.74 L426.11,186.94 L427.97,187.15 L429.83,187.38 L431.69,187.63 L433.56,187.91 L435.42,188.20 L437.28,188.51 L439.14,188.84 L441.00,189.18 L442.86,189.55 L444.72,189.93 L446.58,190.33 L448.44,190.75 L450.31,191.19 L452.17,191.64 L454.03,192.10 L455.89,192.58 L457.75,193.08 L459.61,193.59 L461.47,194.11 L463.33,194.65 L465.19,195.20 L467.06,195.75 L468.92,196.32 L470.78,196.90 L472.64,197.49 L474.50,198.09 L476.36,198.69 L478.22,199.30 L480.08,199.92 L481.94,200.55 L483.81,201.17 L485.67,201.80 L487.53,202.44 L489.39,203.08 L491.25,203.72 L493.11,204.36 L494.97,205.00 L496.83,205.64 L498.69,206.28 L500.56,206.93 L502.42,207.56 L504.28,208.20 L506.14,208.84 L508.00,209.47 L509.86,210.10 L511.72,210.73 L513.58,211.35 L515.44,211.97 L517.30,212.59 L519.17,213.20 L521.03,213.81 L522.89,214.41 L524.75,215.00 L526.61,215.60 L528.47,216.18 L530.33,216.76 L532.19,217.33 L534.05,217.90 L535.92,218.46 L537.78,219.01 L539.64,219.55 L541.50,220.08 L543.36,220.61 L545.22,221.12 L547.08,221.62 L548.94,222.11 L550.80,222.58 L552.67,223.04 L554.53,223.48 L556.39,223.90 L558.25,224.31 L560.11,224.69 L561.97,225.06 L563.83,225.39 L565.69,225.70 L567.55,225.98 L569.42,226.23 L571.28,226.44 L573.14,226.62 L575.00,226.76 L576.86,226.86 L578.72,226.92 L580.58,226.92 L582.44,226.88 L584.30,226.78 L586.17,226.63 L588.03,226.42 L589.89,226.14 L591.75,225.80 L593.61,225.39 L595.47,224.91 L597.33,224.35 L599.19,223.72 L601.05,223.00 L602.92,222.20 L604.78,221.32 L606.64,220.34 L608.50,219.27 L610.36,218.11 L612.22,216.85 L614.08,215.49 L615.94,214.04 L617.80,212.47 L619.67,210.81 L621.53,209.03 L623.39,207.16 L625.25,205.17 L627.11,203.07 L628.97,200.87 L630.83,198.56 L632.69,196.14 L634.55,193.61 L636.42,190.97 L638.28,188.23 L640.14,185.38 L642.00,182.43 L643.86,179.38 L645.72,176.23 L647.58,172.99 L649.44,169.65 L651.30,166.23 L653.17,162.72 L655.03,159.12 L656.89,155.46 L658.75,151.72 L660.61,147.91 L662.47,144.04 L664.33,140.11 L666.19,136.14 L668.05,132.12 L669.92,128.06 L671.78,123.97 L673.64,119.85 L675.50,115.72 L677.36,111.58 L679.22,107.43 L681.08,103.29 L682.94,99.16 L684.80,95.05 L686.66,90.97 L688.53,86.92 L690.39,82.91 L692.25,78.96 L694.11,75.07 L695.97,71.24 L697.83,67.49 L699.69,63.82 L701.55,60.25 L703.41,56.77 L705.28,53.39 L707.14,50.13 L709.00,46.99 L710.86,43.98 L712.72,41.10 L714.58,38.36 L716.44,35.77 L718.30,33.32 L720.16,31.04 L722.03,28.92 L723.89,26.97 L725.75,25.19 L727.61,23.58 L729.47,22.16 L731.33,20.91 L733.19,19.86 L735.05,18.99 L736.91,18.31 L738.78,17.83 L740.64,17.54 L742.50,17.44"/>
</g>
<g clip-path="url(#cBL)" fill="none" stroke-width="1.85" stroke-linejoin="round">
<path stroke="#0000ff" d="M77.00,400.60 L78.84,396.56 L80.67,392.52 L82.51,388.49 L84.34,384.47 L86.18,380.46 L88.02,376.47 L89.85,372.50 L91.69,368.55 L93.52,364.62 L95.36,360.72 L97.20,356.85 L99.03,353.01 L100.87,349.20 L102.71,345.43 L104.54,341.69 L106.38,337.99 L108.21,334.33 L110.05,330.71 L111.89,327.13 L113.72,323.59 L115.56,320.10 L117.39,316.65 L119.23,313.24 L121.07,309.88 L122.90,306.57 L124.74,303.31 L126.57,300.10 L128.41,296.95 L130.25,293.85 L132.08,290.82 L133.92,287.85 L135.76,284.94 L137.59,282.11 L139.43,279.36 L141.26,276.70 L143.10,274.12 L144.94,271.64 L146.77,269.27 L148.61,267.01 L150.44,264.87 L152.28,262.85 L154.12,260.97 L155.95,259.24 L157.79,257.67 L159.62,256.26 L161.46,255.02 L163.30,253.97 L165.13,253.11 L166.97,252.46 L168.81,252.02 L170.64,251.80 L172.48,251.81 L174.31,252.06 L176.15,252.56 L177.99,253.32 L179.82,254.33 L181.66,255.61 L183.49,257.17 L185.33,258.99 L187.17,261.10 L189.00,263.49 L190.84,266.16 L192.67,269.11 L194.51,272.34 L196.35,275.84 L198.18,279.61 L200.02,283.64 L201.85,287.93 L203.69,292.46 L205.53,297.22 L207.36,302.19 L209.20,307.37 L211.04,312.74 L212.87,318.27 L214.71,323.96 L216.54,329.77 L218.38,335.69 L220.22,341.70 L222.05,347.77 L223.89,353.89 L225.72,360.02 L227.56,366.16 L229.40,372.27 L231.23,378.33 L233.07,384.33 L234.90,390.23 L236.74,396.04 L238.58,401.72 L240.41,407.25 L242.25,412.64 L244.09,417.85 L245.92,422.88 L247.76,427.71 L249.59,432.34 L251.43,436.76 L253.27,440.95 L255.10,444.93 L256.94,448.67 L258.77,452.19 L260.61,455.47 L262.45,458.52 L264.28,461.34 L266.12,463.93 L267.95,466.29 L269.79,468.44 L271.63,470.36 L273.46,472.08 L275.30,473.60 L277.13,474.92 L278.97,476.05 L280.81,477.00 L282.64,477.78 L284.48,478.40 L286.32,478.86 L288.15,479.18 L289.99,479.36 L291.82,479.41 L293.66,479.34 L295.50,479.16 L297.33,478.88 L299.17,478.50 L301.00,478.04 L302.84,477.49 L304.68,476.87 L306.51,476.18 L308.35,475.42 L310.18,474.61 L312.02,473.74 L313.86,472.82 L315.69,471.85 L317.53,470.84 L319.37,469.79 L321.20,468.70 L323.04,467.58 L324.87,466.42 L326.71,465.23 L328.55,464.01 L330.38,462.77 L332.22,461.49 L334.05,460.19 L335.89,458.86 L337.73,457.51 L339.56,456.14 L341.40,454.74 L343.23,453.33 L345.07,451.89 L346.91,450.44 L348.74,448.97 L350.58,447.48 L352.42,445.98 L354.25,444.46 L356.09,442.94 L357.92,441.40 L359.76,439.86 L361.60,438.30 L363.43,436.75 L365.27,435.19 L367.10,433.62 L368.94,432.06 L370.78,430.50 L372.61,428.94 L374.45,427.38 L376.28,425.83 L378.12,424.29 L379.96,422.75 L381.79,421.22 L383.63,419.70 L385.46,418.18 L387.30,416.68 L389.14,415.18 L390.97,413.69 L392.81,412.22 L394.65,410.74 L396.48,409.28 L398.32,407.82 L400.15,406.37 L401.99,404.92 L403.83,403.48 L405.66,402.04 L407.50,400.60"/>
<path stroke="#000000" d="M77.00,400.60 L78.84,397.95 L80.67,395.30 L82.51,392.65 L84.34,389.98 L86.18,387.29 L88.02,384.60 L89.85,381.88 L91.69,379.14 L93.52,376.38 L95.36,373.59 L97.20,370.78 L99.03,367.95 L100.87,365.09 L102.71,362.21 L104.54,359.31 L106.38,356.40 L108.21,353.47 L110.05,350.52 L111.89,347.58 L113.72,344.63 L115.56,341.68 L117.39,338.74 L119.23,335.81 L121.07,332.90 L122.90,330.01 L124.74,327.14 L126.57,324.31 L128.41,321.51 L130.25,318.75 L132.08,316.04 L133.92,313.37 L135.76,310.75 L137.59,308.18 L139.43,305.67 L141.26,303.21 L143.10,300.81 L144.94,298.47 L146.77,296.19 L148.61,293.97 L150.44,291.81 L152.28,289.72 L154.12,287.69 L155.95,285.73 L157.79,283.85 L159.62,282.04 L161.46,280.31 L163.30,278.66 L165.13,277.11 L166.97,275.66 L168.81,274.33 L170.64,273.12 L172.48,272.05 L174.31,271.13 L176.15,270.37 L177.99,269.81 L179.82,269.45 L181.66,269.31 L183.49,269.42 L185.33,269.79 L187.17,270.44 L189.00,271.40 L190.84,272.67 L192.67,274.28 L194.51,276.24 L196.35,278.55 L198.18,281.23 L200.02,284.27 L201.85,287.68 L203.69,291.44 L205.53,295.56 L207.36,300.00 L209.20,304.76 L211.04,309.80 L212.87,315.11 L214.71,320.66 L216.54,326.40 L218.38,332.32 L220.22,338.36 L222.05,344.50 L223.89,350.70 L225.72,356.93 L227.56,363.14 L229.40,369.32 L231.23,375.42 L233.07,381.43 L234.90,387.31 L236.74,393.03 L238.58,398.60 L240.41,403.97 L242.25,409.14 L244.09,414.10 L245.92,418.84 L247.76,423.34 L249.59,427.62 L251.43,431.65 L253.27,435.45 L255.10,439.01 L256.94,442.34 L258.77,445.44 L260.61,448.31 L262.45,450.96 L264.28,453.40 L266.12,455.64 L267.95,457.68 L269.79,459.52 L271.63,461.18 L273.46,462.67 L275.30,463.99 L277.13,465.15 L278.97,466.15 L280.81,467.01 L282.64,467.72 L284.48,468.31 L286.32,468.76 L288.15,469.09 L289.99,469.30 L291.82,469.40 L293.66,469.39 L295.50,469.28 L297.33,469.07 L299.17,468.76 L301.00,468.36 L302.84,467.88 L304.68,467.32 L306.51,466.67 L308.35,465.96 L310.18,465.17 L312.02,464.32 L313.86,463.40 L315.69,462.43 L317.53,461.41 L319.37,460.33 L321.20,459.21 L323.04,458.05 L324.87,456.86 L326.71,455.63 L328.55,454.37 L330.38,453.09 L332.22,451.79 L334.05,450.47 L335.89,449.13 L337.73,447.79 L339.56,446.44 L341.40,445.08 L343.23,443.73 L345.07,442.37 L346.91,441.02 L348.74,439.67 L350.58,438.33 L352.42,437.00 L354.25,435.67 L356.09,434.36 L357.92,433.06 L359.76,431.76 L361.60,430.48 L363.43,429.22 L365.27,427.96 L367.10,426.71 L368.94,425.47 L370.78,424.25 L372.61,423.03 L374.45,421.82 L376.28,420.61 L378.12,419.42 L379.96,418.23 L381.79,417.04 L383.63,415.86 L385.46,414.68 L387.30,413.50 L389.14,412.32 L390.97,411.15 L392.81,409.98 L394.65,408.81 L396.48,407.63 L398.32,406.46 L400.15,405.29 L401.99,404.12 L403.83,402.94 L405.66,401.77 L407.50,400.60"/>
<path stroke="#ff0000" d="M77.00,400.60 L78.84,397.24 L80.67,393.87 L82.51,390.51 L84.34,387.15 L86.18,383.79 L88.02,380.43 L89.85,377.07 L91.69,373.71 L93.52,370.36 L95.36,367.01 L97.20,363.66 L99.03,360.32 L100.87,356.98 L102.71,353.66 L104.54,350.34 L106.38,347.03 L108.21,343.73 L110.05,340.45 L111.89,337.19 L113.72,333.94 L115.56,330.71 L117.39,327.51 L119.23,324.33 L121.07,321.17 L122.90,318.05 L124.74,314.96 L126.57,311.91 L128.41,308.90 L130.25,305.93 L132.08,303.00 L133.92,300.13 L135.76,297.30 L137.59,294.54 L139.43,291.83 L141.26,289.19 L143.10,286.62 L144.94,284.13 L146.77,281.71 L148.61,279.38 L150.44,277.14 L152.28,275.00 L154.12,272.96 L155.95,271.04 L157.79,269.23 L159.62,267.56 L161.46,266.02 L163.30,264.63 L165.13,263.39 L166.97,262.33 L168.81,261.44 L170.64,260.74 L172.48,260.24 L174.31,259.96 L176.15,259.90 L177.99,260.07 L179.82,260.50 L181.66,261.19 L183.49,262.15 L185.33,263.38 L187.17,264.91 L189.00,266.74 L190.84,268.88 L192.67,271.32 L194.51,274.07 L196.35,277.14 L198.18,280.52 L200.02,284.20 L201.85,288.19 L203.69,292.47 L205.53,297.02 L207.36,301.84 L209.20,306.90 L211.04,312.18 L212.87,317.67 L214.71,323.33 L216.54,329.14 L218.38,335.07 L220.22,341.10 L222.05,347.19 L223.89,353.31 L225.72,359.43 L227.56,365.54 L229.40,371.58 L231.23,377.56 L233.07,383.42 L234.90,389.17 L236.74,394.77 L238.58,400.21 L240.41,405.47 L242.25,410.54 L244.09,415.41 L245.92,420.08 L247.76,424.53 L249.59,428.76 L251.43,432.78 L253.27,436.57 L255.10,440.15 L256.94,443.50 L258.77,446.64 L260.61,449.58 L262.45,452.30 L264.28,454.83 L266.12,457.16 L267.95,459.30 L269.79,461.25 L271.63,463.03 L273.46,464.63 L275.30,466.06 L277.13,467.33 L278.97,468.45 L280.81,469.41 L282.64,470.23 L284.48,470.90 L286.32,471.44 L288.15,471.84 L289.99,472.12 L291.82,472.27 L293.66,472.31 L295.50,472.23 L297.33,472.04 L299.17,471.75 L301.00,471.36 L302.84,470.88 L304.68,470.30 L306.51,469.64 L308.35,468.90 L310.18,468.09 L312.02,467.20 L313.86,466.26 L315.69,465.25 L317.53,464.19 L319.37,463.08 L321.20,461.92 L323.04,460.72 L324.87,459.49 L326.71,458.23 L328.55,456.95 L330.38,455.64 L332.22,454.31 L334.05,452.96 L335.89,451.61 L337.73,450.25 L339.56,448.88 L341.40,447.51 L343.23,446.14 L345.07,444.77 L346.91,443.40 L348.74,442.04 L350.58,440.68 L352.42,439.33 L354.25,437.98 L356.09,436.65 L357.92,435.32 L359.76,434.00 L361.60,432.68 L363.43,431.37 L365.27,430.07 L367.10,428.78 L368.94,427.49 L370.78,426.21 L372.61,424.92 L374.45,423.65 L376.28,422.37 L378.12,421.10 L379.96,419.83 L381.79,418.55 L383.63,417.28 L385.46,416.01 L387.30,414.73 L389.14,413.46 L390.97,412.18 L392.81,410.90 L394.65,409.62 L396.48,408.33 L398.32,407.05 L400.15,405.76 L401.99,404.47 L403.83,403.18 L405.66,401.89 L407.50,400.60"/>
</g>
<g clip-path="url(#cBR)" fill="none" stroke-width="1.85" stroke-linejoin="round">
<path stroke="#0000ff" d="M407.50,400.60 L409.36,400.79 L411.22,400.97 L413.08,401.16 L414.94,401.35 L416.81,401.54 L418.67,401.73 L420.53,401.92 L422.39,402.11 L424.25,402.31 L426.11,402.51 L427.97,402.72 L429.83,402.93 L431.69,403.14 L433.56,403.35 L435.42,403.57 L437.28,403.79 L439.14,404.02 L441.00,404.25 L442.86,404.48 L444.72,404.72 L446.58,404.96 L448.44,405.20 L450.31,405.45 L452.17,405.70 L454.03,405.95 L455.89,406.20 L457.75,406.46 L459.61,406.71 L461.47,406.97 L463.33,407.22 L465.19,407.47 L467.06,407.72 L468.92,407.97 L470.78,408.21 L472.64,408.45 L474.50,408.68 L476.36,408.90 L478.22,409.11 L480.08,409.31 L481.94,409.50 L483.81,409.68 L485.67,409.85 L487.53,409.99 L489.39,410.13 L491.25,410.24 L493.11,410.33 L494.97,410.40 L496.83,410.45 L498.69,410.47 L500.56,410.47 L502.42,410.44 L504.28,410.39 L506.14,410.30 L508.00,410.18 L509.86,410.03 L511.72,409.85 L513.58,409.64 L515.44,409.39 L517.30,409.10 L519.17,408.77 L521.03,408.41 L522.89,408.01 L524.75,407.57 L526.61,407.09 L528.47,406.56 L530.33,406.00 L532.19,405.39 L534.05,404.73 L535.92,404.04 L537.78,403.29 L539.64,402.50 L541.50,401.66 L543.36,400.77 L545.22,399.83 L547.08,398.84 L548.94,397.80 L550.80,396.71 L552.67,395.57 L554.53,394.38 L556.39,393.14 L558.25,391.86 L560.11,390.54 L561.97,389.17 L563.83,387.78 L565.69,386.36 L567.55,384.93 L569.42,383.48 L571.28,382.05 L573.14,380.62 L575.00,379.23 L576.86,377.88 L578.72,376.58 L580.58,375.36 L582.44,374.23 L584.30,373.19 L586.17,372.27 L588.03,371.46 L589.89,370.78 L591.75,370.23 L593.61,369.81 L595.47,369.53 L597.33,369.37 L599.19,369.34 L601.05,369.42 L602.92,369.61 L604.78,369.89 L606.64,370.26 L608.50,370.70 L610.36,371.21 L612.22,371.77 L614.08,372.37 L615.94,373.01 L617.80,373.68 L619.67,374.36 L621.53,375.06 L623.39,375.76 L625.25,376.47 L627.11,377.18 L628.97,377.88 L630.83,378.57 L632.69,379.25 L634.55,379.92 L636.42,380.58 L638.28,381.22 L640.14,381.85 L642.00,382.47 L643.86,383.07 L645.72,383.65 L647.58,384.22 L649.44,384.77 L651.30,385.31 L653.17,385.83 L655.03,386.34 L656.89,386.83 L658.75,387.31 L660.61,387.78 L662.47,388.24 L664.33,388.68 L666.19,389.11 L668.05,389.53 L669.92,389.94 L671.78,390.34 L673.64,390.73 L675.50,391.11 L677.36,391.47 L679.22,391.83 L681.08,392.18 L682.94,392.52 L684.80,392.86 L686.66,393.18 L688.53,393.50 L690.39,393.81 L692.25,394.12 L694.11,394.41 L695.97,394.70 L697.83,394.99 L699.69,395.27 L701.55,395.54 L703.41,395.81 L705.28,396.07 L707.14,396.32 L709.00,396.58 L710.86,396.82 L712.72,397.07 L714.58,397.31 L716.44,397.54 L718.30,397.78 L720.16,398.01 L722.03,398.23 L723.89,398.46 L725.75,398.68 L727.61,398.90 L729.47,399.11 L731.33,399.33 L733.19,399.54 L735.05,399.76 L736.91,399.97 L738.78,400.18 L740.64,400.39 L742.50,400.60"/>
<path stroke="#000000" d="M407.50,400.60 L409.36,401.07 L411.22,401.54 L413.08,402.01 L414.94,402.49 L416.81,402.96 L418.67,403.44 L420.53,403.92 L422.39,404.41 L424.25,404.90 L426.11,405.40 L427.97,405.90 L429.83,406.41 L431.69,406.92 L433.56,407.44 L435.42,407.96 L437.28,408.49 L439.14,409.03 L441.00,409.57 L442.86,410.12 L444.72,410.68 L446.58,411.24 L448.44,411.80 L450.31,412.37 L452.17,412.95 L454.03,413.53 L455.89,414.11 L457.75,414.69 L459.61,415.27 L461.47,415.86 L463.33,416.44 L465.19,417.02 L467.06,417.59 L468.92,418.17 L470.78,418.73 L472.64,419.29 L474.50,419.85 L476.36,420.39 L478.22,420.92 L480.08,421.44 L481.94,421.94 L483.81,422.43 L485.67,422.90 L487.53,423.35 L489.39,423.78 L491.25,424.19 L493.11,424.58 L494.97,424.94 L496.83,425.27 L498.69,425.58 L500.56,425.85 L502.42,426.10 L504.28,426.31 L506.14,426.48 L508.00,426.62 L509.86,426.72 L511.72,426.78 L513.58,426.80 L515.44,426.78 L517.30,426.71 L519.17,426.59 L521.03,426.42 L522.89,426.20 L524.75,425.93 L526.61,425.60 L528.47,425.22 L530.33,424.77 L532.19,424.26 L534.05,423.68 L535.92,423.04 L537.78,422.32 L539.64,421.53 L541.50,420.66 L543.36,419.72 L545.22,418.69 L547.08,417.58 L548.94,416.38 L550.80,415.10 L552.67,413.72 L554.53,412.25 L556.39,410.70 L558.25,409.05 L560.11,407.32 L561.97,405.50 L563.83,403.60 L565.69,401.62 L567.55,399.57 L569.42,397.47 L571.28,395.31 L573.14,393.13 L575.00,390.92 L576.86,388.71 L578.72,386.51 L580.58,384.35 L582.44,382.24 L584.30,380.21 L586.17,378.27 L588.03,376.44 L589.89,374.75 L591.75,373.20 L593.61,371.80 L595.47,370.58 L597.33,369.54 L599.19,368.67 L601.05,367.98 L602.92,367.47 L604.78,367.13 L606.64,366.95 L608.50,366.92 L610.36,367.04 L612.22,367.28 L614.08,367.64 L615.94,368.10 L617.80,368.65 L619.67,369.28 L621.53,369.97 L623.39,370.72 L625.25,371.51 L627.11,372.33 L628.97,373.17 L630.83,374.03 L632.69,374.90 L634.55,375.77 L636.42,376.64 L638.28,377.51 L640.14,378.36 L642.00,379.20 L643.86,380.03 L645.72,380.84 L647.58,381.63 L649.44,382.41 L651.30,383.16 L653.17,383.89 L655.03,384.59 L656.89,385.28 L658.75,385.94 L660.61,386.58 L662.47,387.20 L664.33,387.80 L666.19,388.38 L668.05,388.93 L669.92,389.47 L671.78,389.98 L673.64,390.48 L675.50,390.96 L677.36,391.42 L679.22,391.86 L681.08,392.29 L682.94,392.70 L684.80,393.09 L686.66,393.47 L688.53,393.84 L690.39,394.19 L692.25,394.53 L694.11,394.85 L695.97,395.17 L697.83,395.47 L699.69,395.76 L701.55,396.04 L703.41,396.32 L705.28,396.58 L707.14,396.83 L709.00,397.08 L710.86,397.32 L712.72,397.55 L714.58,397.77 L716.44,397.99 L718.30,398.20 L720.16,398.40 L722.03,398.60 L723.89,398.80 L725.75,398.99 L727.61,399.18 L729.47,399.36 L731.33,399.55 L733.19,399.73 L735.05,399.90 L736.91,400.08 L738.78,400.25 L740.64,400.43 L742.50,400.60"/>
<path stroke="#ff0000" d="M407.50,400.60 L409.36,401.05 L411.22,401.51 L413.08,401.96 L414.94,402.42 L416.81,402.88 L418.67,403.33 L420.53,403.79 L422.39,404.25 L424.25,404.71 L426.11,405.17 L427.97,405.63 L429.83,406.09 L431.69,406.55 L433.56,407.01 L435.42,407.48 L437.28,407.94 L439.14,408.41 L441.00,408.87 L442.86,409.34 L444.72,409.81 L446.58,410.27 L448.44,410.74 L450.31,411.20 L452.17,411.67 L454.03,412.13 L455.89,412.59 L457.75,413.05 L459.61,413.51 L461.47,413.96 L463.33,414.41 L465.19,414.85 L467.06,415.29 L468.92,415.72 L470.78,416.14 L472.64,416.56 L474.50,416.96 L476.36,417.36 L478.22,417.75 L480.08,418.12 L481.94,418.48 L483.81,418.83 L485.67,419.16 L487.53,419.48 L489.39,419.78 L491.25,420.05 L493.11,420.31 L494.97,420.55 L496.83,420.76 L498.69,420.95 L500.56,421.12 L502.42,421.25 L504.28,421.36 L506.14,421.44 L508.00,421.49 L509.86,421.50 L511.72,421.48 L513.58,421.42 L515.44,421.33 L517.30,421.19 L519.17,421.02 L521.03,420.80 L522.89,420.54 L524.75,420.23 L526.61,419.88 L528.47,419.47 L530.33,419.02 L532.19,418.51 L534.05,417.94 L535.92,417.32 L537.78,416.63 L539.64,415.89 L541.50,415.08 L543.36,414.20 L545.22,413.25 L547.08,412.23 L548.94,411.14 L550.80,409.97 L552.67,408.73 L554.53,407.40 L556.39,406.00 L558.25,404.52 L560.11,402.96 L561.97,401.32 L563.83,399.61 L565.69,397.83 L567.55,395.99 L569.42,394.09 L571.28,392.15 L573.14,390.17 L575.00,388.17 L576.86,386.17 L578.72,384.18 L580.58,382.21 L582.44,380.30 L584.30,378.46 L586.17,376.70 L588.03,375.05 L589.89,373.53 L591.75,372.14 L593.61,370.91 L595.47,369.84 L597.33,368.95 L599.19,368.22 L601.05,367.67 L602.92,367.29 L604.78,367.07 L606.64,367.00 L608.50,367.08 L610.36,367.29 L612.22,367.63 L614.08,368.06 L615.94,368.60 L617.80,369.21 L619.67,369.88 L621.53,370.62 L623.39,371.39 L625.25,372.20 L627.11,373.04 L628.97,373.89 L630.83,374.76 L632.69,375.62 L634.55,376.49 L636.42,377.35 L638.28,378.20 L640.14,379.04 L642.00,379.86 L643.86,380.67 L645.72,381.45 L647.58,382.22 L649.44,382.96 L651.30,383.69 L653.17,384.39 L655.03,385.07 L656.89,385.73 L658.75,386.37 L660.61,386.98 L662.47,387.57 L664.33,388.15 L666.19,388.70 L668.05,389.23 L669.92,389.75 L671.78,390.24 L673.64,390.72 L675.50,391.18 L677.36,391.62 L679.22,392.04 L681.08,392.45 L682.94,392.85 L684.80,393.23 L686.66,393.60 L688.53,393.95 L690.39,394.29 L692.25,394.62 L694.11,394.93 L695.97,395.24 L697.83,395.53 L699.69,395.82 L701.55,396.09 L703.41,396.36 L705.28,396.62 L707.14,396.86 L709.00,397.10 L710.86,397.34 L712.72,397.56 L714.58,397.78 L716.44,398.00 L718.30,398.21 L720.16,398.41 L722.03,398.61 L723.89,398.80 L725.75,399.00 L727.61,399.18 L729.47,399.37 L731.33,399.55 L733.19,399.73 L735.05,399.90 L736.91,400.08 L738.78,400.25 L740.64,400.43 L742.50,400.60"/>
</g>
<g stroke="#1a1a1a" stroke-width="1.2" fill="none" stroke-linecap="butt">
<rect x="76.95" y="4.3" width="665.5999999999999" height="483.55"/>
<path d="M76.95,246.95H742.55M407.85,4.3V487.85"/>
</g>
<path d="M95.33,4.3v3.0M95.33,243.95v6.0M95.33,487.85v-3.0M113.72,4.3v3.0M113.72,243.95v6.0M113.72,487.85v-3.0M132.10,4.3v3.0M132.10,243.95v6.0M132.10,487.85v-3.0M150.48,4.3v3.0M150.48,243.95v6.0M150.48,487.85v-3.0M168.87,4.3v5.5M168.87,241.45v11.0M168.87,487.85v-5.5M187.25,4.3v3.0M187.25,243.95v6.0M187.25,487.85v-3.0M205.63,4.3v3.0M205.63,243.95v6.0M205.63,487.85v-3.0M224.02,4.3v3.0M224.02,243.95v6.0M224.02,487.85v-3.0M242.40,4.3v3.0M242.40,243.95v6.0M242.40,487.85v-3.0M260.78,4.3v5.5M260.78,241.45v11.0M260.78,487.85v-5.5M279.17,4.3v3.0M279.17,243.95v6.0M279.17,487.85v-3.0M297.55,4.3v3.0M297.55,243.95v6.0M297.55,487.85v-3.0M315.93,4.3v3.0M315.93,243.95v6.0M315.93,487.85v-3.0M334.32,4.3v3.0M334.32,243.95v6.0M334.32,487.85v-3.0M352.70,4.3v5.5M352.70,241.45v11.0M352.70,487.85v-5.5M371.08,4.3v3.0M371.08,243.95v6.0M371.08,487.85v-3.0M389.47,4.3v3.0M389.47,243.95v6.0M389.47,487.85v-3.0M426.44,4.3v3.0M426.44,243.95v6.0M426.44,487.85v-3.0M445.04,4.3v3.0M445.04,243.95v6.0M445.04,487.85v-3.0M463.63,4.3v3.0M463.63,243.95v6.0M463.63,487.85v-3.0M482.23,4.3v3.0M482.23,243.95v6.0M482.23,487.85v-3.0M500.82,4.3v5.5M500.82,241.45v11.0M500.82,487.85v-5.5M519.42,4.3v3.0M519.42,243.95v6.0M519.42,487.85v-3.0M538.01,4.3v3.0M538.01,243.95v6.0M538.01,487.85v-3.0M556.61,4.3v3.0M556.61,243.95v6.0M556.61,487.85v-3.0M575.20,4.3v3.0M575.20,243.95v6.0M575.20,487.85v-3.0M593.79,4.3v5.5M593.79,241.45v11.0M593.79,487.85v-5.5M612.39,4.3v3.0M612.39,243.95v6.0M612.39,487.85v-3.0M630.98,4.3v3.0M630.98,243.95v6.0M630.98,487.85v-3.0M649.58,4.3v3.0M649.58,243.95v6.0M649.58,487.85v-3.0M668.17,4.3v3.0M668.17,243.95v6.0M668.17,487.85v-3.0M686.77,4.3v5.5M686.77,241.45v11.0M686.77,487.85v-5.5M705.36,4.3v3.0M705.36,243.95v6.0M705.36,487.85v-3.0M723.96,4.3v3.0M723.96,243.95v6.0M723.96,487.85v-3.0M76.95,235.92h3.0M404.85,235.92h6.0M742.55,235.92h-3.0M76.95,224.89h3.0M404.85,224.89h6.0M742.55,224.89h-3.0M76.95,213.86h3.0M404.85,213.86h6.0M742.55,213.86h-3.0M76.95,202.83h3.0M404.85,202.83h6.0M742.55,202.83h-3.0M76.95,191.80h3.0M404.85,191.80h6.0M742.55,191.80h-3.0M76.95,180.77h3.0M404.85,180.77h6.0M742.55,180.77h-3.0M76.95,169.74h3.0M404.85,169.74h6.0M742.55,169.74h-3.0M76.95,158.71h5.5M402.35,158.71h11.0M742.55,158.71h-5.5M76.95,147.68h3.0M404.85,147.68h6.0M742.55,147.68h-3.0M76.95,136.65h3.0M404.85,136.65h6.0M742.55,136.65h-3.0M76.95,125.62h3.0M404.85,125.62h6.0M742.55,125.62h-3.0M76.95,114.59h3.0M404.85,114.59h6.0M742.55,114.59h-3.0M76.95,103.56h3.0M404.85,103.56h6.0M742.55,103.56h-3.0M76.95,92.53h3.0M404.85,92.53h6.0M742.55,92.53h-3.0M76.95,81.50h3.0M404.85,81.50h6.0M742.55,81.50h-3.0M76.95,70.47h5.5M402.35,70.47h11.0M742.55,70.47h-5.5M76.95,59.44h3.0M404.85,59.44h6.0M742.55,59.44h-3.0M76.95,48.41h3.0M404.85,48.41h6.0M742.55,48.41h-3.0M76.95,37.38h3.0M404.85,37.38h6.0M742.55,37.38h-3.0M76.95,26.35h3.0M404.85,26.35h6.0M742.55,26.35h-3.0M76.95,15.32h3.0M404.85,15.32h6.0M742.55,15.32h-3.0M76.95,475.45h3.0M404.85,475.45h6.0M742.55,475.45h-3.0M76.95,463.02h3.0M404.85,463.02h6.0M742.55,463.02h-3.0M76.95,450.60h3.0M404.85,450.60h6.0M742.55,450.60h-3.0M76.95,438.17h3.0M404.85,438.17h6.0M742.55,438.17h-3.0M76.95,425.75h3.0M404.85,425.75h6.0M742.55,425.75h-3.0M76.95,413.32h3.0M404.85,413.32h6.0M742.55,413.32h-3.0M76.95,400.90h5.5M402.35,400.90h11.0M742.55,400.90h-5.5M76.95,388.47h3.0M404.85,388.47h6.0M742.55,388.47h-3.0M76.95,376.05h3.0M404.85,376.05h6.0M742.55,376.05h-3.0M76.95,363.62h3.0M404.85,363.62h6.0M742.55,363.62h-3.0M76.95,351.20h3.0M404.85,351.20h6.0M742.55,351.20h-3.0M76.95,338.77h3.0M404.85,338.77h6.0M742.55,338.77h-3.0M76.95,326.35h3.0M404.85,326.35h6.0M742.55,326.35h-3.0M76.95,313.92h3.0M404.85,313.92h6.0M742.55,313.92h-3.0M76.95,301.50h5.5M402.35,301.50h11.0M742.55,301.50h-5.5M76.95,289.07h3.0M404.85,289.07h6.0M742.55,289.07h-3.0M76.95,276.65h3.0M404.85,276.65h6.0M742.55,276.65h-3.0M76.95,264.22h3.0M404.85,264.22h6.0M742.55,264.22h-3.0M76.95,251.80h3.0M404.85,251.80h6.0M742.55,251.80h-3.0" stroke="#1a1a1a" stroke-width="1.1" fill="none"/>
<g font-family="'Liberation Sans', sans-serif" fill="#000" style="font-kerning:none">
<text x="77.0" y="517.6" font-size="22" text-anchor="middle">0</text>
<text x="407.9" y="517.6" font-size="22" text-anchor="middle">0</text>
<text x="168.9" y="517.6" font-size="22" text-anchor="middle">50</text>
<text x="500.8" y="517.6" font-size="22" text-anchor="middle">50</text>
<text x="260.8" y="517.6" font-size="22" text-anchor="middle">100</text>
<text x="593.8" y="517.6" font-size="22" text-anchor="middle">100</text>
<text x="352.7" y="517.6" font-size="22" text-anchor="middle">150</text>
<text x="686.8" y="517.6" font-size="22" text-anchor="middle">150</text>
<text x="63.6" y="78.4" font-size="22" text-anchor="end">80</text>
<text x="63.6" y="166.6" font-size="22" text-anchor="end">40</text>
<text x="63.6" y="254.8" font-size="22" text-anchor="end">0</text>
<text x="63.6" y="309.4" font-size="22" text-anchor="end">0.4</text>
<text x="63.6" y="408.8" font-size="22" text-anchor="end">0.0</text>
<text x="176.4" y="34.4" font-size="25" letter-spacing="0.16">E<tspan font-size="20" dy="8">p</tspan><tspan dy="-8"> = 2.48 MeV</tspan></text>
<text x="508.2" y="34.4" font-size="25" letter-spacing="0.12">E<tspan font-size="20" dy="8">p</tspan><tspan dy="-8"> = 6 MeV</tspan></text>
<text transform="translate(180.0,549.4) scale(1.09,1)" font-family="'Liberation Serif', serif" font-size="26.5" stroke="#000" stroke-width="0.1">&#920;</text>
<text x="199.4" y="548.4" font-size="25"><tspan font-size="20" dy="8.0" letter-spacing="0.4">c.m.</tspan><tspan dy="-8.0" dx="-0.2"> (deg)</tspan></text>
<text transform="translate(513.0,549.4) scale(1.09,1)" font-family="'Liberation Serif', serif" font-size="26.5" stroke="#000" stroke-width="0.1">&#920;</text>
<text x="532.4" y="548.4" font-size="25"><tspan font-size="20" dy="8.0" letter-spacing="0.4">c.m.</tspan><tspan dy="-8.0" dx="-0.2"> (deg)</tspan></text>
<text transform="translate(30.6,205.8) rotate(-90)" font-size="25" letter-spacing="0.2">d&#963;/d&#937; (mb/sr)</text>
<text transform="translate(28.2,381.4) rotate(-90)" font-size="25.5">A<tspan font-size="20" dy="8.3">y</tspan></text>
<text x="197.6" y="77.9" font-size="20.8" text-anchor="end" fill="#009a00">N3LO</text>
<path d="M211.4,70.5H251.6" stroke="#009a00" stroke-width="1.85"/>
<text x="197.6" y="103.0" font-size="20.8" text-anchor="end" fill="#0000ff">INOY04</text>
<path d="M211.4,95.6H251.6" stroke="#0000ff" stroke-width="1.85"/>
<text x="197.6" y="128.1" font-size="20.8" text-anchor="end" fill="#000000">AV18</text>
<path d="M211.4,120.7H251.6" stroke="#000000" stroke-width="1.85"/>
<text x="197.6" y="153.2" font-size="20.8" text-anchor="end" fill="#ff0000">CD Bonn</text>
<path d="M211.4,145.8H251.6" stroke="#ff0000" stroke-width="1.85"/>
</g>
</svg>
</body></html>
